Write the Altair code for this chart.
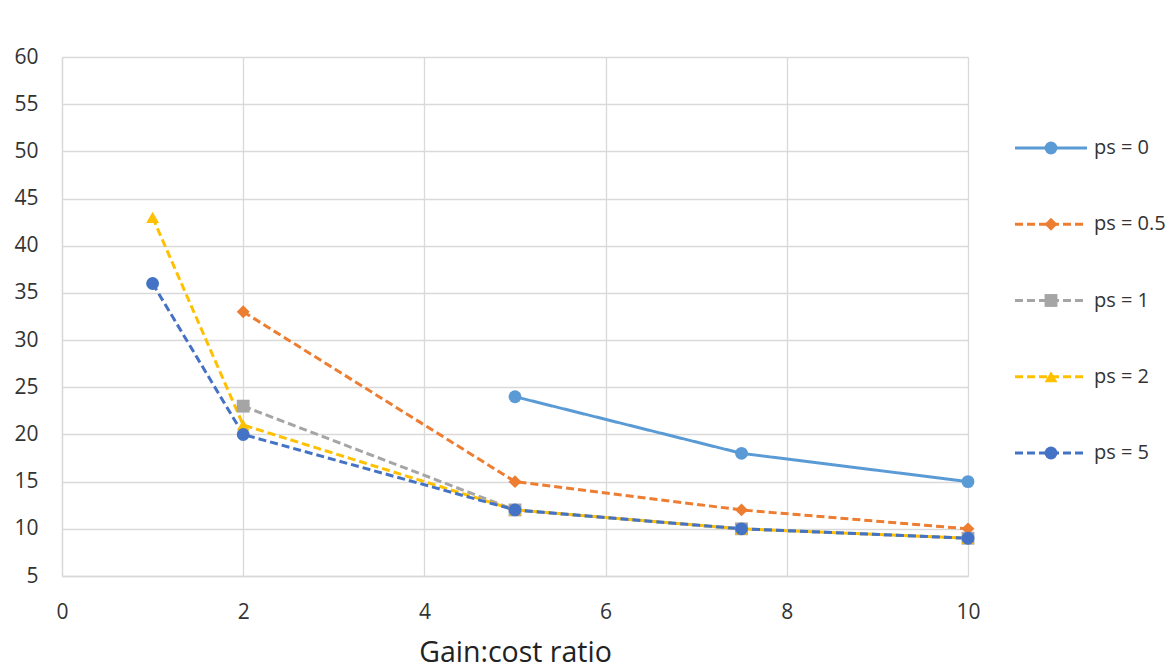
import altair as alt
import pandas as pd

series = ["ps = 0", "ps = 0.5", "ps = 1", "ps = 2", "ps = 5"]
colors = ["#5B9BD5", "#ED7D31", "#A5A5A5", "#FFC000", "#4472C4"]
shapes = ["circle", "diamond", "square", "triangle-up", "circle"]
dashes = [[1, 0], [8, 4], [8, 4], [8, 4], [8, 4]]

x_ps0 = [5, 7.5, 10]
y_ps0 = [24, 18, 15]
x_ps05 = [2, 5, 7.5, 10]
y_ps05 = [33, 15, 12, 10]
x_ps1 = [2, 5, 7.5, 10]
y_ps1 = [23, 12, 10, 9]
x_ps2 = [1, 2, 5, 7.5, 10]
y_ps2 = [43, 21, 12, 10, 9]
x_ps5 = [1, 2, 5, 7.5, 10]
y_ps5 = [36, 20, 12, 10, 9]

x_ticks = [0, 2, 4, 6, 8, 10]
y_ticks = [5, 10, 15, 20, 25, 30, 35, 40, 45, 50, 55, 60]

rows = []
for i, (s, xs, ys) in enumerate(zip(series,
                                    [x_ps0, x_ps05, x_ps1, x_ps2, x_ps5],
                                    [y_ps0, y_ps05, y_ps1, y_ps2, y_ps5])):
    for x, y in zip(xs, ys):
        rows.append({"series": s, "order": i, "x": x, "y": y})
df = pd.DataFrame(rows)

color = alt.Color("series:N", scale=alt.Scale(domain=series, range=colors), legend=None)
dash = alt.StrokeDash("series:N", scale=alt.Scale(domain=series, range=dashes), legend=None)
shape = alt.Shape("series:N", scale=alt.Scale(domain=series, range=shapes), legend=None)

xenc = alt.X("x:Q", scale=alt.Scale(domain=[0, 10], nice=False),
             axis=alt.Axis(values=x_ticks, format="d", title="Gain:cost ratio",
                           labelFlush=False, labelPadding=25, titlePadding=16,
                           titleFontSize=28.5, titleFontWeight="normal"))
yenc = alt.Y("y:Q", scale=alt.Scale(domain=[5, 60], nice=False, zero=False),
             axis=alt.Axis(values=y_ticks, format="d", title=None, labelPadding=24,
                           labelFlush=False))

lines = alt.Chart(df).mark_line(strokeWidth=3).encode(
    x=xenc, y=yenc, color=color, strokeDash=dash, detail="series:N",
    order="order:Q")
points = alt.Chart(df).mark_point(filled=True, opacity=1, size=165).encode(
    x="x:Q", y="y:Q", color=color, shape=shape, order="order:Q")

main = alt.layer(lines, points).properties(width=906, height=519)

# legend drawn from the series list
lrows = []
for s in series:
    lrows.append({"series": s, "lx": 0.0})
    lrows.append({"series": s, "lx": 1.0})
ldf = pd.DataFrame(lrows)
mdf = pd.DataFrame({"series": series, "lx": [0.5] * 5})

ly = alt.Y("series:N", scale=alt.Scale(domain=series, range=[91, 396], padding=0),
           axis=None)
lx = alt.X("lx:Q", scale=alt.Scale(domain=[0, 1]), axis=None)

leg_lines = alt.Chart(ldf).mark_line(strokeWidth=3).encode(
    x=lx, y=ly, color=color, strokeDash=dash, detail="series:N")
leg_pts = alt.Chart(mdf).mark_point(filled=True, opacity=1, size=165).encode(
    x=lx, y=ly, color=color, shape=shape)
leg_txt = alt.Chart(mdf).mark_text(align="left", baseline="middle", dx=43, fontSize=20,
                                   color="#333333", font="Open Sans").encode(
    x=lx, y=ly, text="series:N")
legend = alt.layer(leg_lines, leg_pts, leg_txt).properties(width=72, height=519)

chart = alt.hconcat(main, legend, spacing=28).properties(
    padding={"left": 13, "top": 46, "right": 0, "bottom": 5}
).configure(background="white").configure_view(stroke=None).configure_axis(
    domainColor="#D9D9D9", gridColor="#D9D9D9", gridWidth=1.3, ticks=False,
    labelFontSize=21, labelColor="#333333", titleColor="#222222",
    labelFont="Open Sans", titleFont="Open Sans", domainWidth=1.3
)

chart.save("out.html", embed_options={"renderer": "svg", "actions": False})
